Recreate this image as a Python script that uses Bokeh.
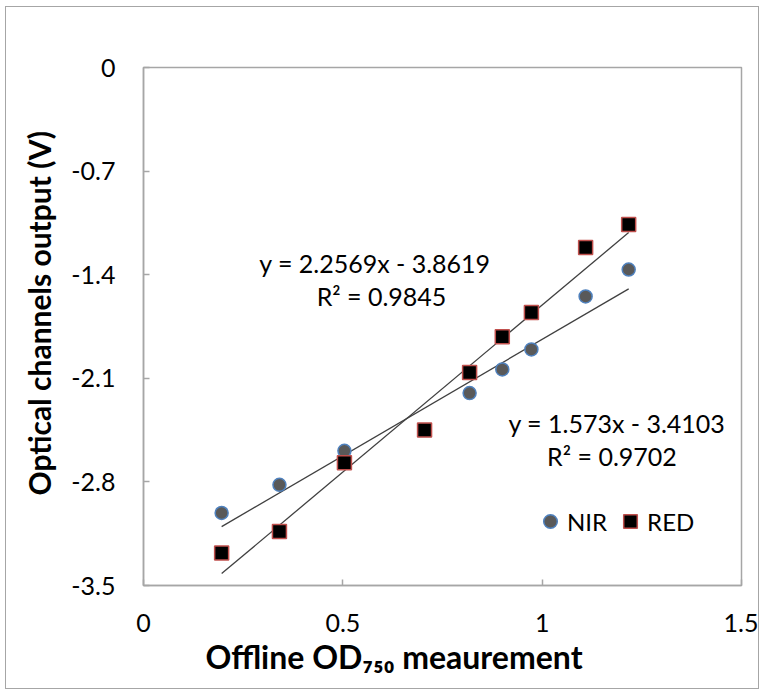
from bokeh.plotting import figure
from bokeh.models import Range1d, FixedTicker, Label, Legend, LegendItem, Title
from bokeh.embed import file_html
from bokeh.resources import INLINE

# ---- data ----
nir_x = [0.196, 0.341, 0.504, 0.818, 0.900, 0.973, 1.109, 1.217]
nir_y = [-3.01, -2.82, -2.59, -2.20, -2.04, -1.905, -1.547, -1.365]
red_x = [0.196, 0.341, 0.504, 0.705, 0.818, 0.900, 0.973, 1.109, 1.217]
red_y = [-3.28, -3.135, -2.67, -2.45, -2.06, -1.82, -1.655, -1.216, -1.06]
red_slope, red_icept, red_r2 = 2.2569, -3.8619, 0.9845
nir_slope, nir_icept, nir_r2 = 1.573, -3.4103, 0.9702
x_ticks = [0, 0.5, 1, 1.5]
x_tick_labels = ["0", "0.5", "1", "1.5"]
y_ticks = [0, -0.7, -1.4, -2.1, -2.8, -3.5]
y_tick_labels = ["0", "-0.7", "-1.4", "-2.1", "-2.8", "-3.5"]
x_title = "Offline OD₇₅₀ meaurement"
y_title = "Optical channels output (V)"

FONT = "Lato"
GRAY = "#a6a6a6"

p = figure(width=754, height=683, output_backend="svg", toolbar_location=None,
           x_range=Range1d(0, 1.5), y_range=Range1d(-3.5, 0),
           min_border_left=137, min_border_right=19, min_border_top=60,
           min_border_bottom=105)
p.styles = {"border": "1px solid #a6a6a6", "margin-left": "5px", "margin-top": "6px"}
p.outline_line_color = GRAY
p.outline_line_width = 1.5
p.xgrid.visible = False
p.ygrid.visible = False

for ax, ticks, labels in ((p.xaxis[0], x_ticks, x_tick_labels), (p.yaxis[0], y_ticks, y_tick_labels)):
    ax.ticker = FixedTicker(ticks=ticks)
    ax.major_label_overrides = {t: l for t, l in zip(ticks, labels)}
    ax.axis_line_color = GRAY
    ax.axis_line_width = 1.5
    ax.major_tick_line_color = GRAY
    ax.major_tick_line_width = 1.5
    ax.major_tick_in = 6
    ax.major_tick_out = 0
    ax.minor_tick_line_color = None
    ax.major_label_text_font = FONT
    ax.major_label_text_font_size = "25px"
    ax.major_label_text_color = "black"

p.xaxis.major_label_standoff = 28
p.yaxis.major_label_standoff = 28

p.add_layout(Title(text=x_title, align="left", offset=62, standoff=0,
                   text_font=FONT, text_font_size="32px", text_font_style="bold",
                   text_color="black"), "below")
p.add_layout(Title(text=y_title, align="left", offset=90, standoff=24,
                   text_font=FONT, text_font_size="30px", text_font_style="bold",
                   text_color="black"), "left")

# trend lines
def fit_line(xs, slope, icept):
    lo, hi = min(xs), max(xs)
    return [lo, hi], [slope * lo + icept, slope * hi + icept]

fx, fy = fit_line(nir_x, nir_slope, nir_icept)
p.line(fx, fy, line_color="#404040", line_width=1.3)
fx, fy = fit_line(red_x, red_slope, red_icept)
p.line(fx, fy, line_color="#404040", line_width=1.3)

nir_r = p.scatter(nir_x, nir_y, marker="circle", size=13, fill_color="#595959",
                  line_color="#4f81bd", line_width=1.5)
red_r = p.scatter(red_x, red_y, marker="square", size=14, fill_color="black",
                  line_color="#c0504d", line_width=1.5)

legend = Legend(items=[LegendItem(label="NIR", renderers=[nir_r]),
                       LegendItem(label="RED", renderers=[red_r])],
                orientation="horizontal", location=(390, 47),
                glyph_width=34, glyph_height=34, label_standoff=0, spacing=6,
                padding=0, margin=0, border_line_alpha=0, background_fill_alpha=0,
                label_text_font=FONT, label_text_font_size="24px",
                label_text_color="black")
p.add_layout(legend)

# equation labels
def eq_text(slope, icept):
    return "y = %gx - %g" % (slope, abs(icept))

for txt, x, y in ((eq_text(red_slope, red_icept), 0.5806, -1.324),
                  ("R² = %g" % red_r2, 0.597, -1.547),
                  (eq_text(nir_slope, nir_icept), 1.1876, -2.405),
                  ("R² = %g" % nir_r2, 1.175, -2.628)):
    p.add_layout(Label(x=x, y=y, text=txt, text_align="center", text_baseline="middle",
                       text_font=FONT, text_font_size="25px", text_color="black"))

open("out.html", "w").write(file_html(p, INLINE))
